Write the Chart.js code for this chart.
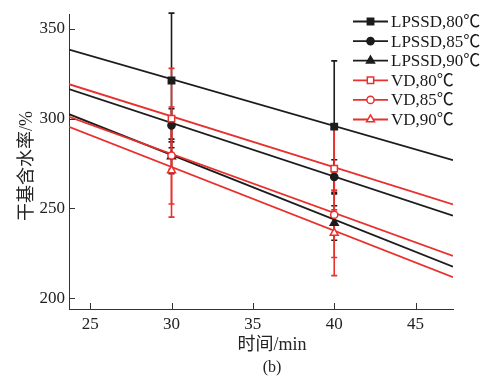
<!DOCTYPE html>
<html>
<head>
<meta charset="utf-8">
<script src="https://cdn.jsdelivr.net/npm/chart.js@4.4.1/dist/chart.umd.min.js"></script>
<style>
  html, body { margin: 0; padding: 0; background: #ffffff; }
  #wrap { width: 484px; height: 376px; position: relative; }
</style>
</head>
<body>
<div id="wrap"><canvas id="c"></canvas></div>
<script>
// ---- data ----
const seriesNames = ["LPSSD,80℃", "LPSSD,85℃", "LPSSD,90℃", "VD,80℃", "VD,85℃", "VD,90℃"];
const times = [30, 40];                 // measurement times (min)
const fitX = [23.7, 47.3];              // extent of the fitted lines (min)

const lpssd80 = [321.3, 295.6];
const lpssd85 = [296.3, 267.6];
const lpssd90 = [279.0, 241.9];
const vd80 = [300.0, 272.2];
const vd85 = [279.5, 246.5];
const vd90 = [271.2, 236.4];

const lpssd80Err = [37.5, 36.6];
const lpssd85Err = [9.2, 9.5];
const lpssd90Err = [9.6, 9.6];
const vd80Err = [28.0, 23.0];
const vd85Err = [27.0, 23.8];
const vd90Err = [26.0, 23.8];

// fitted line values at fitX ends
const lpssd80Fit = [338.5, 276.9];
const lpssd85Fit = [316.5, 246.0];
const lpssd90Fit = [302.5, 217.6];
const vd80Fit = [319.2, 252.2];
const vd85Fit = [301.0, 223.6];
const vd90Fit = [295.5, 211.7];

const xTicks = [25, 30, 35, 40, 45];
const yTicks = [200, 250, 300, 350];
const xTitle = "时间/min";
const yTitle = "干基含水率/%";
const caption = "(b)";

// ---- styling ----
const BLACK = "#1c1c1c";
const RED = "#e8302c";
const SERIF = '"Liberation Serif", "Noto Sans CJK SC", serif';

const values = [lpssd80, lpssd85, lpssd90, vd80, vd85, vd90];
const errs = [lpssd80Err, lpssd85Err, lpssd90Err, vd80Err, vd85Err, vd90Err];
const fits = [lpssd80Fit, lpssd85Fit, lpssd90Fit, vd80Fit, vd85Fit, vd90Fit];
const colors = [BLACK, BLACK, BLACK, RED, RED, RED];
const styles = ["rect", "circle", "triangle", "rect", "circle", "triangle"];
const radii = [4.5, 3.6, 4.6, 4.5, 3.6, 4.6];
const fills = [BLACK, BLACK, BLACK, "#ffffff", "#ffffff", "#ffffff"];

const datasets = [];
// fitted lines
for (let i = 0; i < 6; i++) {
  datasets.push({
    label: seriesNames[i] + " fit",
    data: fitX.map((x, k) => ({ x: x, y: fits[i][k] })),
    borderColor: colors[i],
    borderWidth: 1.8,
    pointRadius: 0,
    showLine: true,
    fill: false,
    order: i < 3 ? 4 : 3,
    isFit: true
  });
}
// measured points
for (let i = 0; i < 6; i++) {
  datasets.push({
    label: seriesNames[i],
    data: times.map((t, k) => ({ x: t, y: values[i][k] })),
    borderColor: colors[i],
    backgroundColor: fills[i],
    pointStyle: styles[i],
    pointRadius: radii[i],
    pointBorderWidth: 1.5,
    showLine: false,
    order: i < 3 ? 1 : 0,
    errIndex: i
  });
}

let errDrawn = false;
const customPlugin = {
  id: "custom",
  beforeDatasetsDraw() { errDrawn = false; },
  beforeDatasetDraw(chart, args) {
    const ds = chart.data.datasets[args.index];
    if (errDrawn || ds.isFit) return;
    errDrawn = true;
    const ctx = chart.ctx, xs = chart.scales.x, ys = chart.scales.y;
    ctx.save();
    ctx.lineWidth = 1.6;
    for (let i = 0; i < 6; i++) {
      ctx.strokeStyle = colors[i];
      for (let k = 0; k < times.length; k++) {
        const px = xs.getPixelForValue(times[k]);
        const yTop = ys.getPixelForValue(values[i][k] + errs[i][k]);
        const yBot = ys.getPixelForValue(values[i][k] - errs[i][k]);
        ctx.beginPath();
        ctx.moveTo(px, yTop); ctx.lineTo(px, yBot);
        ctx.moveTo(px - 3, yTop); ctx.lineTo(px + 3, yTop);
        ctx.moveTo(px - 3, yBot); ctx.lineTo(px + 3, yBot);
        ctx.stroke();
      }
    }
    ctx.restore();
  },
  afterDraw(chart) {
    const ctx = chart.ctx, xs = chart.scales.x, ys = chart.scales.y;
    const area = chart.chartArea;
    ctx.save();
    // inward tick marks
    ctx.strokeStyle = "#333";
    ctx.lineWidth = 1;
    ctx.beginPath();
    xTicks.forEach(v => {
      const px = Math.round(xs.getPixelForValue(v)) + 0.5;
      ctx.moveTo(px, area.bottom); ctx.lineTo(px, area.bottom - 6);
    });
    yTicks.forEach(v => {
      const py = Math.round(ys.getPixelForValue(v)) + 0.5;
      ctx.moveTo(area.left, py); ctx.lineTo(area.left + 6, py);
    });
    ctx.stroke();

    // axis titles and caption
    ctx.fillStyle = "#222";
    ctx.textAlign = "center";
    ctx.textBaseline = "middle";
    ctx.font = "18px " + SERIF;
    ctx.fillText(xTitle, 272, 345);
    ctx.font = "16px " + SERIF;
    ctx.fillText(caption, 272, 368);
    ctx.save();
    ctx.translate(27, 166);
    ctx.rotate(-Math.PI / 2);
    ctx.font = "18px " + SERIF;
    ctx.fillText(yTitle, 0, 0);
    ctx.restore();

    // legend
    const x0 = 353, x1 = 388, xm = 370.5, tx = 391;
    for (let i = 0; i < 6; i++) {
      const y = 21.5 + i * 19.6;
      ctx.strokeStyle = colors[i];
      ctx.lineWidth = 1.8;
      ctx.beginPath();
      ctx.moveTo(x0, y); ctx.lineTo(x1, y);
      ctx.stroke();
      ctx.fillStyle = fills[i];
      ctx.strokeStyle = colors[i];
      ctx.lineWidth = 1.5;
      Chart.helpers.drawPoint(ctx, {
        pointStyle: styles[i], radius: radii[i], rotation: 0, borderWidth: 1.5
      }, xm, y);
      ctx.fillStyle = "#1a1a1a";
      ctx.textAlign = "left";
      ctx.textBaseline = "middle";
      ctx.font = "17px " + SERIF;
      ctx.fillText(seriesNames[i], tx, y + 1);
    }
    ctx.restore();
  }
};

new Chart(document.getElementById("c"), {
  type: "line",
  data: { datasets: datasets },
  options: {
    responsive: true,
    maintainAspectRatio: false,
    animation: false,
    layout: { padding: { top: 10, right: 31, left: 0, bottom: 0 } },
    plugins: { legend: { display: false }, tooltip: { enabled: false } },
    scales: {
      x: {
        type: "linear",
        min: 23.7,
        max: 47.3,
        grid: { display: false, drawTicks: false },
        border: { display: true, color: "#333", width: 1 },
        afterFit: s => { s.height = 67; },
        afterBuildTicks: s => { s.ticks = xTicks.map(v => ({ value: v })); },
        ticks: {
          padding: 5,
          color: "#222",
          font: { family: SERIF, size: 17 },
          maxRotation: 0
        }
      },
      y: {
        type: "linear",
        min: 194,
        max: 358.2,
        grid: { display: false, drawTicks: false },
        border: { display: true, color: "#333", width: 1 },
        afterFit: s => { s.width = 69; },
        afterBuildTicks: s => { s.ticks = yTicks.map(v => ({ value: v })); },
        ticks: {
          padding: 4,
          color: "#222",
          font: { family: SERIF, size: 17 }
        }
      }
    }
  },
  plugins: [customPlugin]
});
</script>
</body>
</html>
